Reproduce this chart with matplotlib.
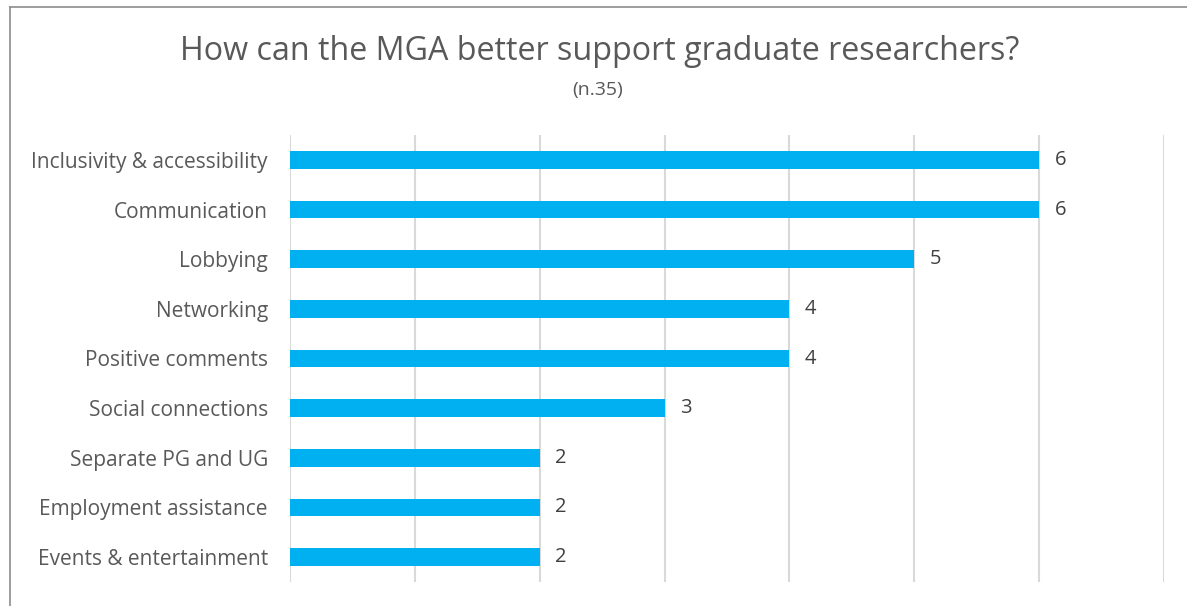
import matplotlib
matplotlib.use("Agg")
import matplotlib.pyplot as plt
from matplotlib.lines import Line2D

plt.rcParams['font.family'] = ['Open Sans', 'DejaVu Sans']

categories = [
    "Inclusivity & accessibility",
    "Communication",
    "Lobbying",
    "Networking",
    "Positive comments",
    "Social connections",
    "Separate PG and UG",
    "Employment assistance",
    "Events & entertainment",
]
counts = [6, 6, 5, 4, 4, 3, 2, 2, 2]
title = "How can the MGA better support graduate researchers?"
subtitle = "(n.35)"

BAR = "#00B0F0"
GRID = "#D9D9D9"
TEXT = "#595959"
VALUE = "#404040"

fig = plt.figure(figsize=(11.87, 6.06), dpi=100)
ax = fig.add_axes([290 / 1187, 1 - 582 / 606, 874 / 1187, 447 / 606])

y = list(range(len(categories)))
ax.barh(y, counts, height=0.35, color=BAR, zorder=3)
for yi, v in zip(y, counts):
    ax.annotate(str(v), (v, yi), xytext=(11, 0), textcoords="offset points",
                va="center", ha="left", fontsize=14.5, color=VALUE)

ax.set_xlim(0, 7)
ax.set_ylim(len(categories) - 0.5, -0.5)
ax.set_xticks(range(0, 8))
ax.xaxis.grid(True, color=GRID, linewidth=1.5, zorder=0)
ax.tick_params(axis="x", length=0, labelbottom=False)
ax.tick_params(axis="y", length=0, pad=16)
ax.set_yticks(y)
ax.set_yticklabels(categories, fontsize=15, color=TEXT)
for s in ax.spines.values():
    s.set_visible(False)

fig.text(600 / 1187, 1 - 51 / 606, title, ha="center", va="center",
         fontsize=23.2, color=TEXT)
fig.text(598 / 1187, 1 - 90 / 606, subtitle, ha="center", va="center",
         fontsize=14, color=TEXT)

# chart frame: top and left edges
fig.add_artist(Line2D([10 / 1187, 1], [1 - 7 / 606, 1 - 7 / 606],
                      transform=fig.transFigure, color="#8C8C8C", linewidth=1.2))
fig.add_artist(Line2D([10 / 1187, 10 / 1187], [0, 1 - 7 / 606],
                      transform=fig.transFigure, color="#8C8C8C", linewidth=1.2))

fig.savefig("out.png", dpi=100, facecolor="white")
